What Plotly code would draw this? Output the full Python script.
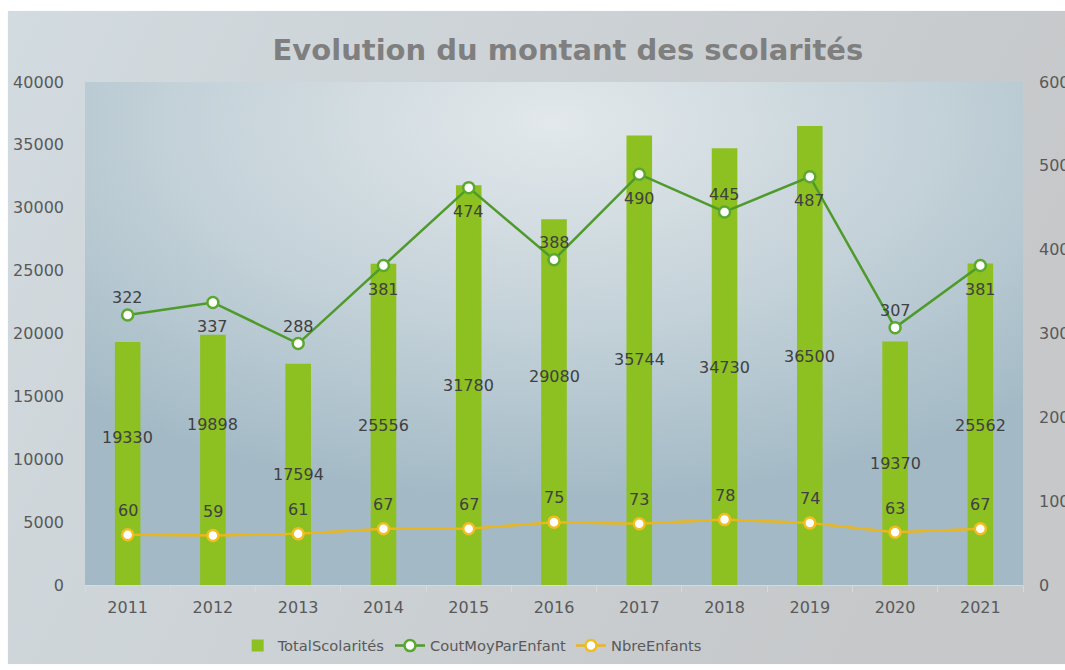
import base64
import plotly.graph_objects as go

years = ["2011", "2012", "2013", "2014", "2015", "2016", "2017", "2018", "2019", "2020", "2021"]
total_scolarites = [19330, 19898, 17594, 25556, 31780, 29080, 35744, 34730, 36500, 19370, 25562]
cout_moy = [322, 337, 288, 381, 474, 388, 490, 445, 487, 307, 381]
nbre_enfants = [60, 59, 61, 67, 67, 75, 73, 78, 74, 63, 67]

# label placement (fraction of bar height) and side of line labels
bar_label_frac = [0.607, 0.641, 0.5, 0.496, 0.5, 0.571, 0.502, 0.499, 0.498, 0.5, 0.496]
cout_label_side = [1, -1, 1, -1, -1, 1, -1, 1, -1, 1, -1]

KX, KY = 1.016, 1.006  # viewport compensation
W, H = round(1065 * KX), round(670 * KY)
def px(v):
    return v * KX
def py(v):
    return v * KY

FONT = "DejaVu Sans"
TXT = "#404040"
AX = "#595959"

def svg_uri(svg):
    return "data:image/svg+xml;base64," + base64.b64encode(svg.encode()).decode()

paper_svg = """<svg xmlns='http://www.w3.org/2000/svg' width='1058' height='660' preserveAspectRatio='none'>
<defs><linearGradient id='g' x1='0' y1='0' x2='1' y2='0.3'>
<stop offset='0' stop-color='#d2dbe0'/><stop offset='1' stop-color='#c6c8ca'/></linearGradient></defs>
<rect width='1058' height='660' fill='url(#g)'/></svg>"""

plot_svg = """<svg xmlns='http://www.w3.org/2000/svg' width='934' height='508' preserveAspectRatio='none'>
<defs><radialGradient id='r' cx='0.5' cy='0.08' r='0.75' fx='0.5' fy='0.08' gradientUnits='objectBoundingBox'>
<stop offset='0' stop-color='#e2e8eb'/><stop offset='0.55' stop-color='#c3d1d8'/><stop offset='1' stop-color='#a3bac6'/></radialGradient></defs>
<rect width='934' height='508' fill='url(#r)'/></svg>"""

fig = go.Figure()

fig.add_trace(go.Bar(
    x=years, y=total_scolarites, name="TotalScolarités",
    marker=dict(color="#8dc021", line=dict(width=0)), width=0.3,
))
fig.add_trace(go.Scatter(
    x=years, y=cout_moy, name="CoutMoyParEnfant", yaxis="y2",
    mode="lines+markers",
    line=dict(color="#4e9a2a", width=2.5),
    marker=dict(size=11, color="white", line=dict(color="#5aa82e", width=2.5)),
))
fig.add_trace(go.Scatter(
    x=years, y=nbre_enfants, name="NbreEnfants", yaxis="y2",
    mode="lines+markers",
    line=dict(color="#e8b61e", width=2.5),
    marker=dict(size=11, color="white", line=dict(color="#f0bd22", width=2.5)),
))

LBL = dict(family=FONT, size=16, color=TXT)
annotations = []
for i, (v, f) in enumerate(zip(total_scolarites, bar_label_frac)):
    annotations.append(dict(x=i, y=v * f, xref="x", yref="y", text=str(v), showarrow=False, font=LBL))
for i, (v, s) in enumerate(zip(cout_moy, cout_label_side)):
    annotations.append(dict(x=i, y=v, xref="x", yref="y2", text=str(v), showarrow=False,
                            yshift=py(17) if s > 0 else py(-24), font=LBL))
for i, v in enumerate(nbre_enfants):
    annotations.append(dict(x=i, y=v, xref="x", yref="y2", text=str(v), showarrow=False,
                            yshift=py(24), font=LBL))

ML, MR, MT, MB = px(84), W - px(1018), py(82), H - py(590)
PW, PH = W - ML - MR, H - MT - MB

fig.update_layout(
    width=W, height=H, autosize=False,
    margin=dict(l=ML, r=MR, t=MT, b=MB),
    paper_bgcolor="white",
    plot_bgcolor="rgba(0,0,0,0)",
    title=dict(text="<b>Evolution du montant des scolarités</b>", x=px(559) / W, xanchor="center",
               y=1 - py(50) / H, yanchor="middle",
               font=dict(family=FONT, size=29, color="#7f7f7f")),
    showlegend=True,
    legend=dict(orientation="h", x=(px(236) - ML) / PW, xanchor="left", y=-py(45) / PH, yanchor="top",
                font=dict(family=FONT, size=14.7, color=AX), bgcolor="rgba(0,0,0,0)",
                traceorder="normal"),
    xaxis=dict(type="category", range=[-0.5, 10.5], showgrid=False, showline=True,
               linecolor="#d9d9d9", linewidth=1,
               ticks="outside", tickson="boundaries", ticklen=6, tickcolor="#d9d9d9",
               ticklabelstandoff=8,
               tickfont=dict(family=FONT, size=16, color=AX), zeroline=False),
    yaxis=dict(range=[0, 40000], dtick=5000, tickformat="d", showgrid=False, zeroline=False,
               showline=False, tickfont=dict(family=FONT, size=16, color=AX), ticks="",
               ticklabelstandoff=20),
    yaxis2=dict(range=[0, 600], dtick=100, tickformat="d", overlaying="y", side="right",
                showgrid=False, zeroline=False, showline=False, ticks="",
                ticklabelstandoff=15,
                tickfont=dict(family=FONT, size=16, color=AX)),
    annotations=annotations,
    images=[
        dict(source=svg_uri(paper_svg), xref="paper", yref="paper",
             x=(px(7) - ML) / PW, y=1 + (MT - py(10)) / PH, sizex=(W - px(7)) / PW, sizey=(H - py(10)) / PH,
             xanchor="left", yanchor="top", sizing="stretch", layer="below"),
        dict(source=svg_uri(plot_svg), xref="paper", yref="paper",
             x=0, y=1, sizex=1, sizey=1, xanchor="left", yanchor="top", sizing="stretch", layer="below"),
    ],
)

fig.write_html("out.html", config={"displayModeBar": False},
               post_script="document.body.style.margin='0';document.body.style.overflow='hidden';")
